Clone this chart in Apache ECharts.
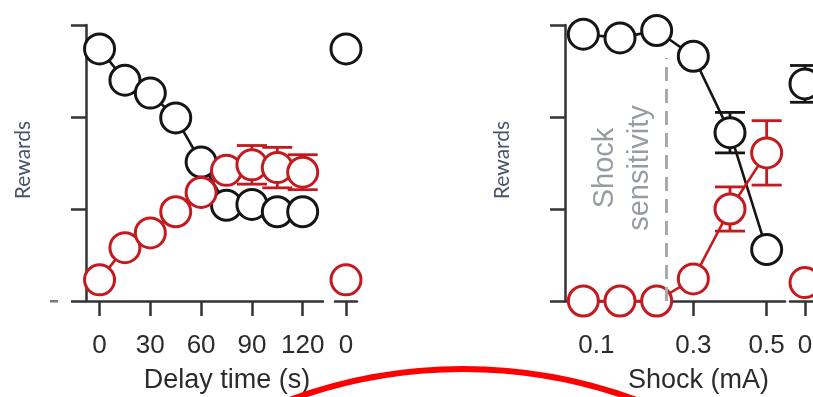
<!DOCTYPE html>
<html>
<head>
<meta charset="utf-8">
<style>
  html, body { margin: 0; padding: 0; background: #fff; }
  #chart { width: 813px; height: 397px; }
</style>
<script src="https://cdn.jsdelivr.net/npm/echarts@6/dist/echarts.min.js"></script>
</head>
<body>
<div id="chart"></div>
<script>
// Panel A: reward choice vs. delay time
const delays = [0, 15, 30, 45, 60, 75, 90, 105, 120];
const delayTicks = [0, 30, 60, 90, 120];
const delayBlack = [2.74, 2.40, 2.26, 1.99, 1.51, 1.04, 1.05, 0.97, 0.97];
const delayRed = [0.23, 0.58, 0.74, 0.97, 1.18, 1.42, 1.48, 1.45, 1.40];
const delayRedErr = [0, 0, 0, 0, 0, 0, 0.21, 0.22, 0.19];
const delayCtrlLabel = ['0'];
const delayCtrlBlack = [2.74];
const delayCtrlRed = [0.23];

// Panel B: reward choice vs. shock intensity
const shockLevels = ['0.1', '0.15', '0.2', '0.3', '0.4', '0.5'];
const shockShownLabels = ['0.1', '0.3', '0.5'];
const shockBlack = [2.90, 2.86, 2.94, 2.66, 1.83, 0.56];
const shockBlackErr = [0, 0, 0, 0, 0.22, 0];
const shockRed = [0, 0, 0, 0.24, 1.00, 1.61];
const shockRedErr = [0, 0, 0, 0, 0.24, 0.35];
const shockThreshold = 2.25; // in level-index units, between 0.2 and 0.3
const shockCtrlLabel = ['0'];
const shockCtrlBlack = [2.36];
const shockCtrlBlackErr = [0.2];
const shockCtrlRed = [0.2];

const BLACK = '#151515';
const RED = '#c41a1f';
const AXIS = '#333';
const LABEL = '#2b2b2b';
const FONT = '"Liberation Sans", Arial, Helvetica, sans-serif';

const chart = echarts.init(document.getElementById('chart'));

const gridTop = 25, gridH = 276;
const grids = [
  { left: 86, top: gridTop, width: 237, height: gridH },
  { left: 335, top: gridTop, width: 22, height: gridH },
  { left: 565, top: gridTop, width: 220, height: gridH },
  { left: 790, top: gridTop, width: 30, height: gridH }
].map(g => Object.assign({ outerBoundsMode: 'none', containLabel: false }, g));

const lineStyleAxis = { color: AXIS, width: 2.5 };
const axisTick = { show: true, length: 15, lineStyle: { color: AXIS, width: 2.5 } };
const tickLabel = { color: LABEL, fontSize: 26, fontFamily: FONT, margin: 32 };

function yAxisFor(gridIndex, visible) {
  return {
    type: 'value', gridIndex, min: 0, max: 3, interval: 1,
    show: visible,
    axisLine: { show: true, onZero: false, lineStyle: lineStyleAxis },
    axisTick, axisLabel: { show: false }, splitLine: { show: false },
    name: visible ? 'Rewards' : '',
    nameLocation: 'middle', nameGap: 52, nameRotate: 90,
    nameTextStyle: { color: '#44546a', fontSize: 21, fontFamily: 'Lato, "Open Sans", sans-serif', padding: [0, 0, 0, 6] }
  };
}

function errorSeries(xi, yi, data, color, z) {
  return {
    type: 'custom', xAxisIndex: xi, yAxisIndex: yi, z, clip: false, silent: true,
    encode: { x: 0, y: 1 },
    data,
    renderItem(params, api) {
      const err = api.value(2);
      if (!err) return null;
      const x = api.value(0), y = api.value(1);
      const hi = api.coord([x, y + err]);
      const lo = api.coord([x, y - err]);
      const hw = 15;
      const st = { stroke: color, lineWidth: 2.8 };
      return {
        type: 'group',
        children: [
          { type: 'line', shape: { x1: hi[0], y1: hi[1], x2: lo[0], y2: lo[1] }, style: st },
          { type: 'line', shape: { x1: hi[0] - hw, y1: hi[1], x2: hi[0] + hw, y2: hi[1] }, style: st },
          { type: 'line', shape: { x1: lo[0] - hw, y1: lo[1], x2: lo[0] + hw, y2: lo[1] }, style: st }
        ]
      };
    }
  };
}

function dotSeries(xi, yi, data, color, z) {
  return {
    type: 'line', xAxisIndex: xi, yAxisIndex: yi, data, z, clip: false, silent: true,
    symbol: 'circle', symbolSize: 30, showAllSymbol: true,
    itemStyle: { color: '#fff', borderColor: color, borderWidth: 3 },
    lineStyle: { color, width: 2.6 },
    animation: false
  };
}

const option = {
  animation: false,
  grid: grids,
  xAxis: [
    {
      type: 'value', gridIndex: 0, min: -8, max: 132,
      axisLine: { show: true, onZero: false, lineStyle: lineStyleAxis },
      axisTick: Object.assign({ customValues: delayTicks }, axisTick),
      axisLabel: Object.assign({ customValues: delayTicks }, tickLabel),
      splitLine: { show: false },
      name: 'Delay time (s)', nameLocation: 'middle', nameGap: 66,
      nameTextStyle: { color: LABEL, fontSize: 27, fontFamily: FONT, padding: [0, 0, 0, 45] }
    },
    {
      type: 'category', gridIndex: 1, data: delayCtrlLabel, boundaryGap: true,
      axisLine: { show: true, onZero: false, lineStyle: lineStyleAxis },
      axisTick: Object.assign({ alignWithLabel: true }, axisTick),
      axisLabel: tickLabel
    },
    {
      type: 'category', gridIndex: 2, data: shockLevels, boundaryGap: true,
      axisLine: { show: true, onZero: false, lineStyle: lineStyleAxis },
      axisTick: Object.assign({
        alignWithLabel: true,
        interval: (i, v) => shockShownLabels.includes(v)
      }, axisTick),
      axisLabel: Object.assign({
        interval: (i, v) => shockShownLabels.includes(v),
        formatter: (v, i) => i === 0 ? '{first|' + v + '}' : v,
        rich: { first: { color: LABEL, fontSize: 26, fontFamily: FONT, padding: [0, 0, 0, 26] } }
      }, tickLabel),
      name: 'Shock (mA)', nameLocation: 'middle', nameGap: 66,
      nameTextStyle: { color: LABEL, fontSize: 27, fontFamily: FONT, padding: [0, 0, 0, 47] }
    },
    {
      type: 'value', gridIndex: 2, min: -0.5, max: 5.5, show: false
    },
    {
      type: 'category', gridIndex: 3, data: shockCtrlLabel, boundaryGap: true,
      axisLine: { show: true, onZero: false, lineStyle: lineStyleAxis },
      axisTick: Object.assign({ alignWithLabel: true }, axisTick),
      axisLabel: tickLabel
    }
  ],
  yAxis: [
    yAxisFor(0, true),
    yAxisFor(1, false),
    yAxisFor(2, true),
    yAxisFor(3, false)
  ],
  series: [
    // delay panel
    dotSeries(0, 0, delays.map((d, i) => [d, delayBlack[i]]), BLACK, 3),
    errorSeries(0, 0, delays.map((d, i) => [d, delayRed[i], delayRedErr[i]]), RED, 2),
    dotSeries(0, 0, delays.map((d, i) => [d, delayRed[i]]), RED, 4),
    dotSeries(1, 1, delayCtrlBlack, BLACK, 3),
    dotSeries(1, 1, delayCtrlRed, RED, 4),
    // shock panel
    {
      type: 'line', xAxisIndex: 3, yAxisIndex: 2, data: [], silent: true, z: 1,
      markLine: {
        silent: true, symbol: 'none', label: { show: false },
        lineStyle: { color: '#a9a9a9', width: 3, type: [14, 8] },
        data: [[{ coord: [shockThreshold, 0] }, { coord: [shockThreshold, 2.64] }]]
      }
    },
    errorSeries(2, 2, shockBlack.map((v, i) => [i, v, shockBlackErr[i]]), BLACK, 2),
    errorSeries(2, 2, shockRed.map((v, i) => [i, v, shockRedErr[i]]), RED, 2),
    dotSeries(2, 2, shockBlack, BLACK, 3),
    dotSeries(2, 2, shockRed, RED, 4),
    errorSeries(4, 3, shockCtrlBlack.map((v, i) => [i, v, shockCtrlBlackErr[i]]), BLACK, 2),
    dotSeries(4, 3, shockCtrlBlack, BLACK, 3),
    dotSeries(4, 3, shockCtrlRed, RED, 4)
  ],
  graphic: [
    { type: 'rect', shape: { x: 50, y: 300, width: 8, height: 2.5 }, style: { fill: '#777' }, silent: true },
    {
      type: 'text', x: 622, y: 168, rotation: Math.PI / 2, silent: true,
      style: {
        text: 'Shock\nsensitivity', fill: '#979ca3', font: '29px ' + FONT,
        align: 'center', verticalAlign: 'middle', lineHeight: 35
      }
    },
    {
      type: 'circle', silent: true, z: 100,
      shape: { cx: 463, cy: 870, r: 501 },
      style: { fill: 'none', stroke: '#ff0000', lineWidth: 6 }
    }
  ]
};

chart.setOption(option);
</script>
</body>
</html>
